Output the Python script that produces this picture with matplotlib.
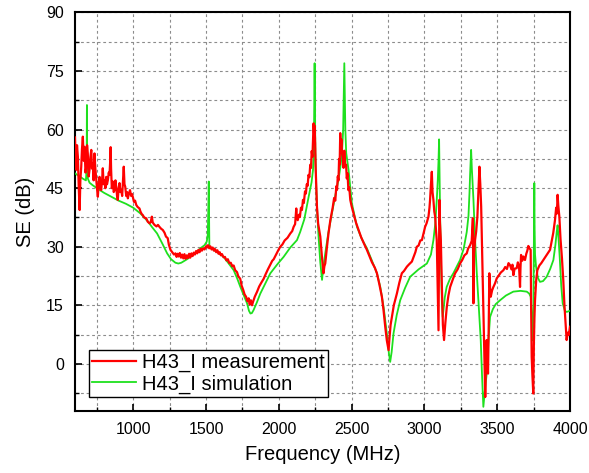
#! /usr/bin/env python3

import matplotlib
matplotlib.use('Agg')
import matplotlib.pyplot as plt
from matplotlib.ticker import MultipleLocator

plt.rcParams['font.family'] = ['Liberation Sans', 'DejaVu Sans']

meas = [
    (600, 58.0), (605, 52), (609, 49.7), (614, 56), (620, 53), (626, 45), (632, 39.4),
    (637, 47), (643, 50.5), (648, 55), (654, 58.2), (660, 52), (666, 55.6), (672, 49),
    (678, 50.5), (683, 56), (688, 53.9), (694, 48), (700, 49.7), (706, 53), (712, 54.8),
    (717, 50), (723, 51.4), (728, 47), (734, 53.9), (740, 50), (746, 47.1), (751, 45),
    (757, 42.8), (763, 46), (769, 47.9), (775, 45), (780, 44.5), (786, 47), (791, 50.1),
    (797, 46), (803, 47.1), (809, 45), (815, 47.9), (820, 46), (826, 47.1), (832, 49),
    (837, 48.4), (842, 52), (845, 55.5), (848, 50), (853, 45), (860, 46.7), (866, 44),
    (872, 44.5), (878, 47), (883, 45.4), (889, 43), (894, 42), (900, 45), (906, 46.3),
    (912, 44), (918, 44.5), (924, 43), (930, 47), (935, 50.5), (940, 46), (945, 45.4),
    (952, 43), (958, 44), (963, 42.4), (970, 43.5), (978, 44.5), (986, 43), (992, 43.5),
    (997, 42.8), (1005, 41.5), (1013, 41.8), (1021, 40.7), (1030, 40.2), (1043, 39.8),
    (1050, 39), (1058, 38.4), (1066, 38.1), (1075, 37.5), (1089, 37.3), (1100, 36.4),
    (1112, 36), (1120, 36.3), (1128, 37.7), (1134, 36.2), (1146, 35.6), (1160, 35.2),
    (1170, 35.6), (1180, 35.1), (1192, 34.6), (1203, 34.3), (1215, 33.6), (1225, 32.6),
    (1237, 32.2), (1245, 30.5), (1256, 29.2), (1268, 28.6), (1280, 28), (1290, 28.3),
    (1298, 27.4), (1305, 28.2), (1312, 27.5), (1320, 28.4), (1328, 27.2), (1336, 28.0),
    (1344, 27.0), (1352, 28.1), (1360, 26.9), (1368, 27.8), (1376, 27.1), (1384, 28.2),
    (1392, 27.2), (1400, 28.3), (1408, 27.6), (1416, 28.5), (1424, 28.0), (1432, 28.9),
    (1440, 28.3), (1448, 29.2), (1456, 28.6), (1464, 29.5), (1472, 29.0), (1480, 29.6),
    (1490, 29.3), (1500, 30.1), (1507, 29.8), (1514, 30.4), (1522, 29.6), (1530, 30.1),
    (1538, 29.3), (1546, 29.8), (1554, 29.0), (1562, 29.4), (1570, 28.6), (1578, 29.1),
    (1586, 28.2), (1594, 28.6), (1602, 27.8), (1610, 28.1), (1620, 27.3), (1630, 27.4),
    (1640, 26.5), (1650, 26.8), (1660, 25.8), (1670, 25.9), (1680, 25.0), (1690, 25.2),
    (1700, 24.0), (1713, 23.5), (1722, 22.4), (1735, 21.8), (1745, 20.0), (1755, 19.0),
    (1765, 17.8), (1775, 17.2), (1785, 16.0), (1793, 16.8), (1800, 15.2), (1808, 16.3),
    (1816, 15.0), (1824, 16.0), (1835, 17.2), (1851, 18.5), (1865, 19.8), (1880, 20.8),
    (1896, 21.8), (1910, 23.0), (1925, 24.2), (1940, 25.3), (1955, 26.4), (1965, 26.8),
    (1980, 27.9), (1995, 29.0), (2010, 30.0), (2025, 30.6), (2040, 31.6), (2060, 32.3),
    (2079, 33.4), (2092, 34.0), (2102, 35.1), (2112, 35.8), (2120, 39.8), (2124, 37.5),
    (2130, 36.8), (2138, 38.2), (2145, 37.6), (2152, 40.0), (2159, 39.4), (2166, 42.0),
    (2172, 41.2), (2180, 44.2), (2186, 43.6), (2192, 46.0), (2198, 45.6), (2204, 48.4),
    (2210, 47.8), (2216, 51.0), (2221, 50.2), (2226, 54.5), (2231, 53.0), (2236, 58.5),
    (2239, 61.6), (2243, 58.5), (2246, 61.0), (2250, 56.0), (2253, 50.5), (2258, 45.0),
    (2262, 40.3), (2270, 36.0), (2285, 32.6), (2296, 27.5), (2307, 23.2), (2313, 25.0),
    (2319, 25.7), (2331, 30.0), (2342, 33.6), (2354, 36.8), (2362, 38.4), (2370, 40.0),
    (2380, 42.5), (2388, 41.8), (2395, 45.5), (2400, 44.6), (2405, 48.0), (2410, 47.0),
    (2414, 52.5), (2418, 51.0), (2422, 59.1), (2426, 55.0), (2430, 57.5), (2434, 54.0),
    (2440, 52.6), (2445, 50.2), (2450, 54.6), (2456, 50.9), (2462, 51.0), (2467, 47.5),
    (2472, 48.8), (2478, 44.5), (2484, 45.2), (2491, 42.0), (2500, 40.4), (2513, 38.6),
    (2530, 36.2), (2548, 34.3), (2565, 32.5), (2585, 30.8), (2605, 29.2), (2620, 27.8),
    (2640, 26.0), (2660, 24.6), (2674, 23.2), (2690, 20.5), (2708, 17.2), (2720, 13.5),
    (2731, 9.5), (2742, 6.0), (2754, 3.5), (2760, 6.5), (2768, 10.0), (2777, 12.0),
    (2790, 15.0), (2811, 18.0), (2828, 20.8), (2845, 23.2), (2860, 23.8), (2880, 24.9),
    (2895, 25.5), (2914, 26.2), (2925, 27.3), (2938, 28.6), (2948, 30.0), (2960, 30.3),
    (2972, 31.6), (2983, 31.7), (2995, 33.6), (3005, 35.1), (3015, 36.0), (3028, 37.7),
    (3035, 40.0), (3039, 42.0), (3045, 46.0), (3051, 49.2), (3056, 44.0), (3062, 42.0),
    (3068, 39.0), (3074, 37.7), (3080, 34.0), (3085, 31.7), (3091, 20.0), (3097, 8.6),
    (3103, 42.0), (3107, 36.0), (3113, 31.7), (3120, 20.0), (3127, 10.0), (3135, 6.1),
    (3144, 10.5), (3154, 14.6), (3165, 17.5), (3177, 19.7), (3194, 21.5), (3211, 23.2),
    (3228, 24.2), (3245, 25.7), (3260, 26.6), (3275, 27.8), (3291, 28.3), (3300, 29.5),
    (3314, 30.4), (3325, 31.5), (3333, 37.3), (3335, 25), (3337, 15.5), (3341, 28),
    (3348, 31.7), (3356, 34), (3364, 37.7), (3370, 43), (3378, 50.5), (3384, 46),
    (3390, 40.3), (3397, 28), (3405, 14.6), (3412, 2), (3418, -8.5), (3423, 0),
    (3428, 6.1), (3432, 2), (3437, -2.5), (3442, 10), (3446, 23.2), (3452, 19.0),
    (3456, 17.2), (3465, 18.8), (3474, 19.7), (3485, 20.6), (3497, 21.9), (3510, 22.6),
    (3525, 23.4), (3543, 24.0), (3555, 24.8), (3567, 24.3), (3578, 25.8), (3588, 25.3),
    (3598, 24.2), (3605, 25.4), (3611, 22.7), (3620, 24.4), (3634, 24.5), (3642, 26.0),
    (3650, 25.0), (3657, 19.7), (3660, 24.5), (3664, 27.9), (3672, 26.4), (3680, 27.5),
    (3691, 26.6), (3700, 28.2), (3707, 29.0), (3714, 30.2), (3722, 29.6), (3730, 29.2),
    (3733, 15), (3737, 1.8), (3742, -3), (3748, -7.6), (3752, 5), (3756, 12), (3760, 16.3),
    (3768, 21.5), (3776, 24.0), (3790, 25.2), (3803, 25.8), (3817, 26.6), (3832, 27.5),
    (3848, 28.4), (3863, 29.2), (3875, 31.5), (3885, 33.5), (3897, 36.8), (3905, 40.0),
    (3910, 38.5), (3915, 43.3), (3920, 40.5), (3927, 37.7), (3935, 32), (3945, 27),
    (3954, 21.5), (3962, 15), (3970, 10), (3977, 6.1), (3985, 8), (3992, 7.4), (4000, 9.5),
]

# simulated SE
sim = [
    (600, 48.8), (620, 48.3), (640, 47.8), (660, 47.3), (675, 47.0), (680, 50),
    (682, 66.3), (684, 52), (688, 47.5), (700, 46.4), (720, 45.8), (750, 45.0),
    (800, 43.8), (850, 42.8), (900, 41.8), (950, 41.0), (1000, 40.0), (1050, 38.5),
    (1100, 36.5), (1130, 35.0), (1164, 33.4), (1200, 30.8), (1233, 28.3), (1260, 26.8),
    (1290, 25.9), (1310, 25.7), (1330, 25.9), (1370, 26.8), (1420, 28.2), (1462, 29.6),
    (1490, 30.4), (1505, 31.3), (1512, 33), (1516, 40), (1519, 46.7), (1521, 38),
    (1523, 30), (1530, 29.8), (1560, 29.0), (1590, 28.3), (1621, 27.4), (1650, 26.0),
    (1690, 24.0), (1715, 21.8), (1736, 19.7), (1760, 17.5), (1782, 15.5), (1795, 13.6),
    (1805, 12.9), (1815, 13.0), (1827, 13.8), (1850, 15.8), (1873, 18.0), (1910, 20.8),
    (1942, 23.2), (1990, 25.5), (2033, 27.4), (2079, 29.8), (2125, 31.7), (2147, 33.8),
    (2175, 37.0), (2205, 42.8), (2225, 46.5), (2235, 49.7), (2241, 56), (2244, 68),
    (2246, 77), (2248, 68), (2251, 54), (2257, 45.4), (2265, 38), (2273, 32.6),
    (2285, 26.0), (2297, 21.5), (2305, 24.5), (2319, 28.3), (2340, 33.5), (2365, 38.6),
    (2390, 43.5), (2410, 47.1), (2425, 51), (2434, 54.0), (2442, 60), (2447, 70),
    (2450, 77), (2453, 70), (2457, 60), (2463, 54.0), (2479, 49.7), (2502, 41.1),
    (2537, 35.1), (2570, 32.0), (2605, 29.6), (2640, 26.4), (2674, 23.2), (2697, 19.7),
    (2720, 14.5), (2742, 7.8), (2756, 2.8), (2765, 0.5), (2775, 3.0), (2788, 7.8),
    (2810, 12.5), (2834, 16.3), (2868, 19.5), (2902, 22.3), (2960, 24.2), (3017, 25.7),
    (3045, 28.0), (3062, 31.7), (3075, 36.0), (3085, 42.0), (3092, 47.0), (3097, 52),
    (3101, 57.5), (3104, 48), (3108, 37.7), (3115, 25), (3120, 16), (3126, 12.0),
    (3140, 17), (3153, 19.7), (3176, 21.8), (3199, 23.2), (3245, 26.6), (3270, 29.5),
    (3291, 33.8), (3303, 38), (3310, 44), (3314, 48.5), (3318, 52), (3321, 54.8),
    (3326, 50), (3337, 42.0), (3348, 32), (3360, 23.2), (3374, 14.5), (3387, 6.1),
    (3396, -3), (3405, -11), (3415, -7), (3428, -2.5), (3440, 6), (3451, 12.0),
    (3470, 14.0), (3490, 15.3), (3520, 16.3), (3560, 17.5), (3611, 18.5), (3660, 18.7),
    (3703, 18.5), (3720, 18.0), (3730, 17.2), (3738, 12), (3744, 6.0), (3748, 10),
    (3751, 25), (3753, 35), (3755, 46.3), (3757, 35), (3760, 28), (3767, 24.9),
    (3780, 22.0), (3794, 21.0), (3815, 21.2), (3840, 22.3), (3865, 24.4), (3886, 26.6),
    (3900, 30.5), (3909, 33.8), (3915, 35.5), (3920, 33), (3930, 27), (3940, 20),
    (3950, 15.5), (3965, 13.6), (3977, 13.3), (4000, 13.6),
]

meas_f = [p[0] for p in meas]
meas_se = [p[1] for p in meas]
sim_f = [p[0] for p in sim]
sim_se = [p[1] for p in sim]

fig = plt.figure(figsize=(5.89, 4.73), dpi=100)
ax = fig.add_axes([0.1273, 0.1317, 0.8404, 0.8419])

l_sim, = ax.plot(sim_f, sim_se, color='#1ee01e', lw=1.3, label='H43_I simulation', zorder=3)
l_meas, = ax.plot(meas_f, meas_se, color='#ff0000', lw=1.6, label='H43_I measurement', zorder=4)

ax.set_xlim(600, 4000)
ax.set_ylim(-12, 90)
ax.xaxis.set_minor_locator(MultipleLocator(250))
ax.yaxis.set_major_locator(MultipleLocator(15))
ax.yaxis.set_minor_locator(MultipleLocator(7.5))
ax.set_xticks([1000, 1500, 2000, 2500, 3000, 3500, 4000])

ax.grid(True, which='both', color='#8c8c8c', linestyle=(0, (2.5, 2.5)), lw=0.8)
ax.tick_params(which='both', direction='in', labelsize=11.5, top=False, right=False)
ax.tick_params(which='major', length=5, width=1.2, pad=8)
ax.tick_params(which='minor', length=3, width=1.0)
for s in ax.spines.values():
    s.set_linewidth(1.5)

ax.set_xlabel('Frequency (MHz)', fontsize=14.5, labelpad=6)
ax.set_ylabel('SE (dB)', fontsize=14.5, labelpad=8)

leg = ax.legend(handles=[l_meas, l_sim], loc='lower left', bbox_to_anchor=(0.028, 0.035),
                borderaxespad=0, fontsize=14.5, fancybox=False, framealpha=1,
                edgecolor='black', handlelength=2.2, handletextpad=0.3,
                labelspacing=0.1, borderpad=0.15)
leg.get_frame().set_linewidth(1.0)

fig.savefig('out.png', dpi=100)
